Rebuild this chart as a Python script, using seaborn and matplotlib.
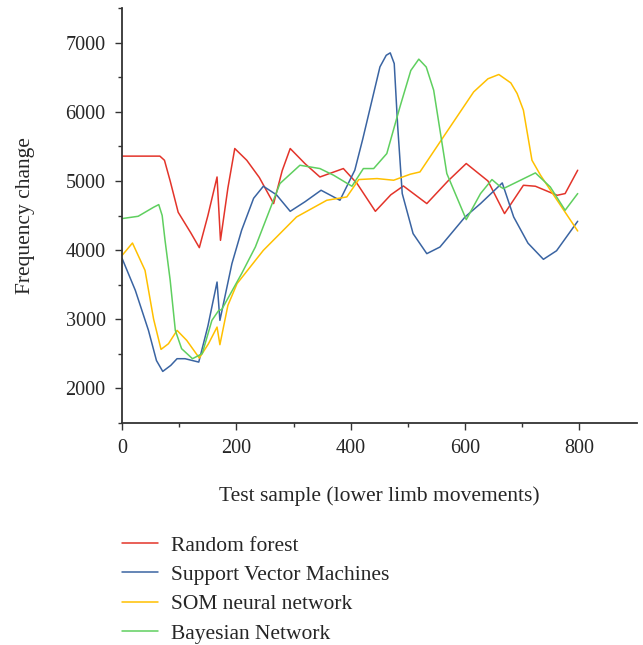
import seaborn as sns
import matplotlib.pyplot as plt
import pandas as pd

sns.set_style("ticks")
plt.rcParams["font.family"] = ["Liberation Serif", "DejaVu Serif"]

# values
rf_x = [0, 66, 74, 84, 98, 120, 135, 150, 166, 172, 185, 197, 218, 240, 265, 280, 294, 320, 346,
        387, 411, 443, 470, 492, 533, 570, 602, 640, 669, 702, 723, 761, 775, 797]
rf_y = [5360, 5360, 5300, 5000, 4547, 4250, 4035, 4500, 5058, 4141, 4900, 5470, 5300, 5050, 4673,
        5150, 5470, 5250, 5058, 5180, 4963, 4561, 4800, 4928, 4673, 5000, 5253, 5000, 4528, 4938,
        4924, 4793, 4818, 5156]

svm_x = [0, 23, 46, 60, 71, 85, 96, 110, 134, 150, 166, 171, 192, 209, 230, 247, 270, 294, 320,
         348, 381, 407, 421, 451, 462, 469, 476, 482, 490, 509, 533, 556, 600, 627, 665, 685, 710,
         737, 760, 797]
svm_y = [3876, 3417, 2837, 2400, 2243, 2330, 2427, 2427, 2378, 2900, 3537, 2982, 3803, 4287,
         4750, 4924, 4800, 4561, 4700, 4866, 4721, 5156, 5610, 6652, 6820, 6855, 6700, 5800, 4818,
         4238, 3948, 4044, 4480, 4673, 4972, 4479, 4100, 3866, 3990, 4417]

som_x = [0, 18, 40, 55, 68, 81, 96, 113, 135, 151, 166, 171, 185, 201, 247, 305, 358, 393, 414,
         446, 475, 504, 521, 562, 615, 640, 659, 680, 691, 702, 717, 732, 761, 797]
som_y = [3924, 4102, 3706, 3000, 2562, 2644, 2837, 2692, 2436, 2644, 2885, 2630, 3200, 3514,
         3996, 4479, 4721, 4769, 5021, 5035, 5011, 5098, 5131, 5638, 6290, 6480, 6542, 6420,
         6267, 6025, 5300, 5083, 4721, 4276]

bn_x = [0, 28, 55, 64, 70, 75, 84, 93, 104, 123, 140, 157, 169, 174, 209, 233, 276, 311, 346, 370,
        402, 422, 440, 463, 486, 505, 519, 532, 545, 568, 602, 627, 647, 662, 667, 723, 749, 775,
        797]
bn_y = [4456, 4489, 4620, 4658, 4500, 4141, 3562, 2837, 2572, 2427, 2500, 2982, 3127, 3137, 3659,
        4044, 4963, 5228, 5180, 5083, 4924, 5180, 5180, 5397, 6073, 6600, 6764, 6650, 6315, 5108,
        4441, 4818, 5021, 4914, 4890, 5117, 4914, 4576, 4818]

methods = ["Random forest", "Support Vector Machines", "SOM neural network", "Bayesian Network"]
colors = ["#e3342a", "#3a64a2", "#ffc000", "#5fcf5f"]


def main():
    frames = []
    for name, xs, ys in zip(methods, [rf_x, svm_x, som_x, bn_x], [rf_y, svm_y, som_y, bn_y]):
        frames.append(pd.DataFrame({"sample": xs, "freq": ys, "method": name}))
    df = pd.concat(frames, ignore_index=True)

    fig = plt.figure(figsize=(6.43, 6.45), dpi=100)
    ax = fig.add_axes([0.19, 0.3446, 0.8, 0.6425])
    sns.lineplot(data=df, x="sample", y="freq", hue="method", hue_order=methods,
                 palette=dict(zip(methods, colors)), estimator=None, sort=True,
                 linewidth=1.1, ax=ax)

    ax.set_xlim(0, 900)
    ax.set_ylim(1500, 7500)
    ax.set_xticks([0, 200, 400, 600, 800])
    ax.set_xticks(range(100, 900, 200), minor=True)
    ax.set_yticks([2000, 3000, 4000, 5000, 6000, 7000])
    ax.set_yticks([1500, 2500, 3500, 4500, 5500, 6500, 7500], minor=True)
    ax.tick_params(which="major", length=5, width=1, color="#333333", labelsize=14.5, pad=7)
    ax.tick_params(which="minor", length=3, width=1, color="#333333")
    for side in ["left", "bottom"]:
        ax.spines[side].set_linewidth(1.3)
        ax.spines[side].set_color("#333333")
    sns.despine(ax=ax)

    ax.set_xlabel("Test sample (lower limb movements)", fontsize=15.5, labelpad=20)
    ax.set_ylabel("Frequency change", fontsize=15.5, labelpad=22)

    sns.move_legend(ax, "upper left", bbox_to_anchor=(0, -0.272), frameon=False, title=None,
                    fontsize=15.5, handlelength=1.65, handletextpad=0.62, labelspacing=0.43,
                    borderpad=0, borderaxespad=0)

    fig.savefig("out.png", dpi=100)
    plt.close()


if __name__ == '__main__':
    main()
